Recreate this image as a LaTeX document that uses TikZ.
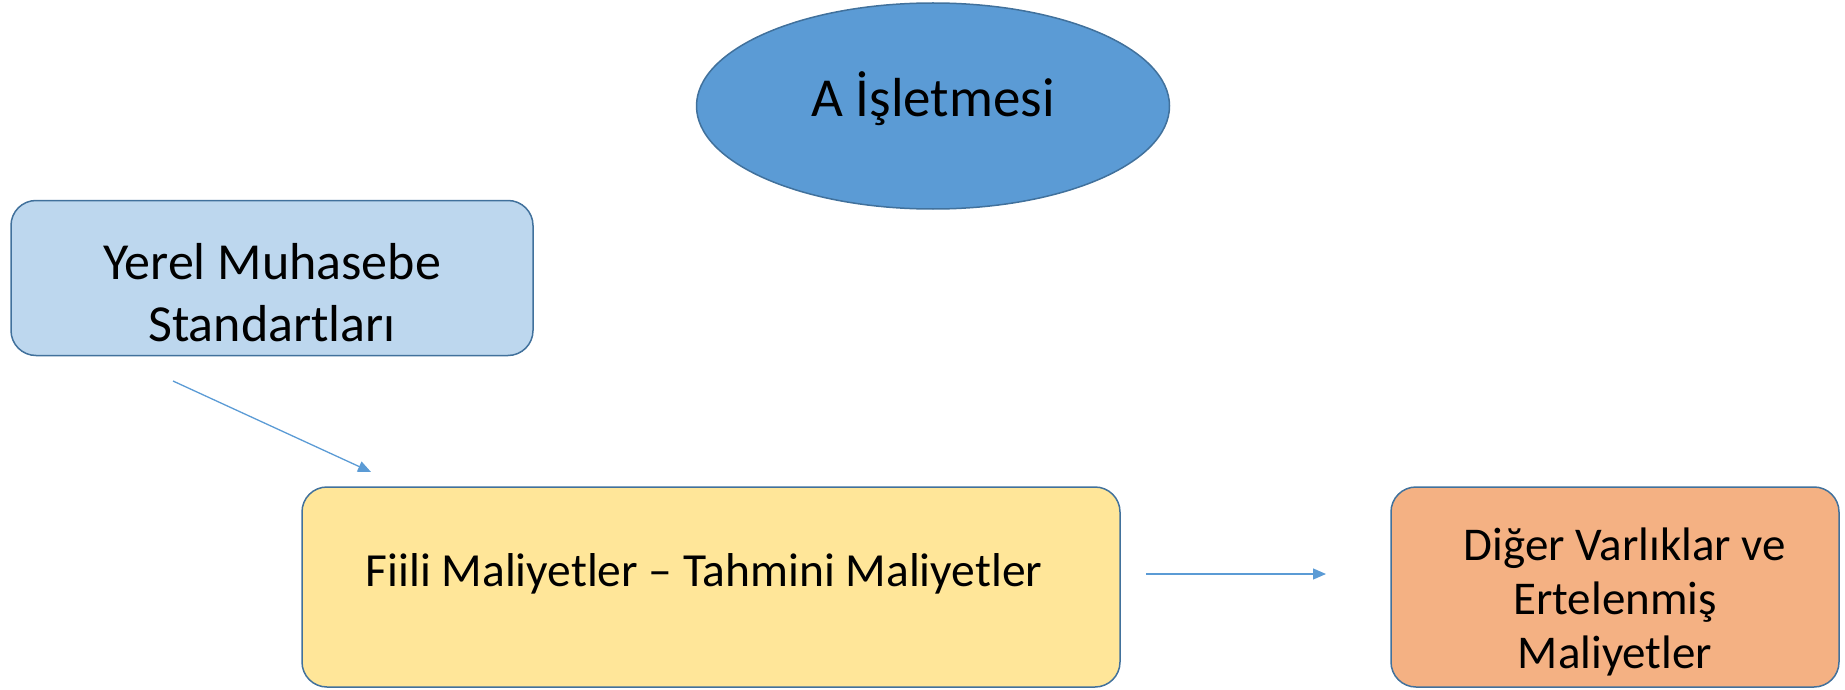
\documentclass[tikz,border=0pt]{standalone}
\usepackage{fontspec}
\setmainfont{Carlito}
\usetikzlibrary{arrows.meta,shapes.geometric}
\definecolor{headblue}{HTML}{5B9BD5}
\definecolor{edgeblue}{HTML}{41719C}
\definecolor{lightblue}{HTML}{BDD7EE}
\definecolor{lightyellow}{HTML}{FFE699}
\definecolor{lightorange}{HTML}{F4B183}
\begin{document}
\begin{tikzpicture}[x=1pt, y=-1pt,
  box/.style={draw=edgeblue, line width=1.5pt, rounded corners=25pt, align=center, inner sep=0pt},
  link/.style={draw=headblue, line width=1.3pt, -{Triangle[length=13pt,width=11pt]}}]
\useasboundingbox (0,0) rectangle (1845,690);
\node[ellipse, draw=edgeblue, fill=headblue, line width=1.5pt, minimum width=473pt, minimum height=206pt, inner sep=0pt,
  font=\fontsize{55}{66}\selectfont] (firm) at (933,106) {\raisebox{-11pt}[0pt][0pt]{A İşletmesi}};
\node[box, fill=lightblue, minimum width=522pt, minimum height=155pt,
  font=\fontsize{52}{62}\selectfont] (local) at (272,278)
  {\raisebox{-26pt}[0pt][0pt]{\begin{tabular}{@{}c@{}}Yerel Muhasebe\\Standartları\end{tabular}}};
\node[box, fill=lightyellow, minimum width=818pt, minimum height=200pt,
  font=\fontsize{47.5}{57}\selectfont] (cost) at (711,587)
  {\raisebox{1pt}[0pt][0pt]{\makebox[0pt]{\hspace{-14pt}Fiili Maliyetler -- Tahmini Maliyetler}}};
\node[box, fill=lightorange, minimum width=448pt, minimum height=200pt,
  font=\fontsize{47}{54}\selectfont] (other) at (1615,587)
  {\raisebox{-23pt}[0pt][0pt]{\begin{tabular}{@{}c@{}}\hspace*{20pt}Diğer Varlıklar ve\\Ertelenmiş\\Maliyetler\end{tabular}}};
\coordinate (a1) at (173,381);
\coordinate (a2) at (371,472);
\coordinate (b1) at (1146,574);
\coordinate (b2) at (1326,574);
\draw[link] (a1) -- (a2);
\draw[link] (b1) -- (b2);
\end{tikzpicture}
\end{document}
